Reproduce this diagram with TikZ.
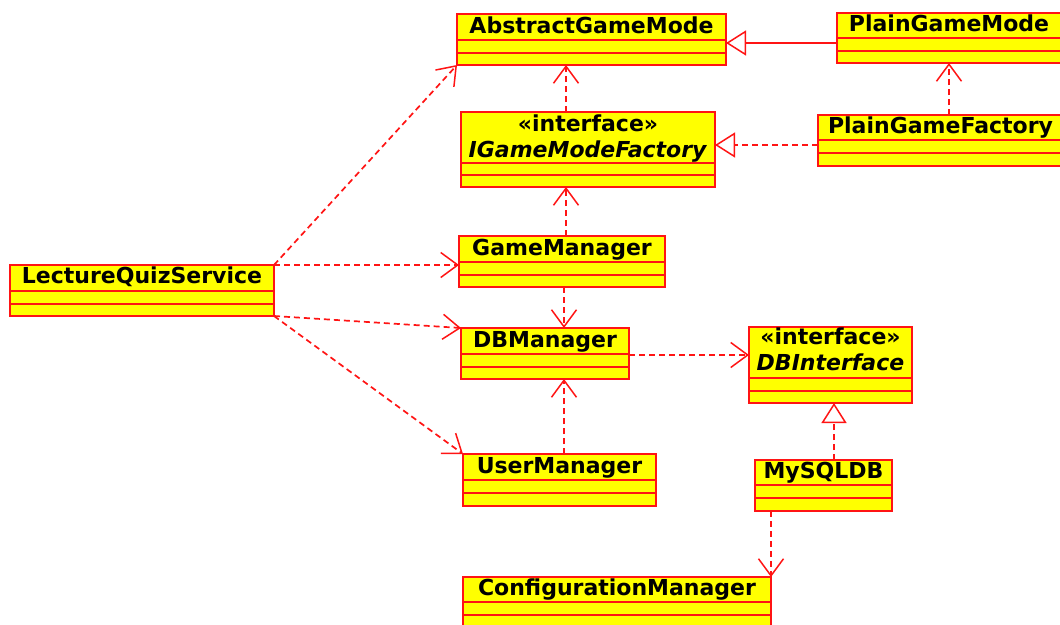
\documentclass[tikz,border=0pt]{standalone}
\usepackage{fontspec}
\setmainfont{DejaVu Sans}
\usetikzlibrary{arrows.meta}
\definecolor{umlred}{RGB}{255,20,20}
\definecolor{umlyellow}{RGB}{255,255,0}
\tikzset{
  clsbox/.style={rectangle, draw=umlred, fill=umlyellow, line width=2pt, inner sep=0pt, outer sep=0pt},
  clstext/.style={font=\fontsize{22}{26}\selectfont\bfseries, anchor=base, inner sep=0pt, align=center, text=black},
  sepline/.style={draw=umlred, line width=2pt},
  dep/.style={draw=umlred, line width=1.7pt, dash pattern=on 6pt off 4pt,
    -{Straight Barb[length=17pt,width=25pt,line width=1.5pt]}},
  real/.style={draw=umlred, line width=1.7pt, dash pattern=on 6pt off 4pt,
    -{Triangle[open,length=20pt,width=25pt,fill=white,line width=1.5pt]}},
  gen/.style={draw=umlred, line width=1.7pt,
    -{Triangle[open,length=20pt,width=25pt,fill=white,line width=1.5pt]}},
}
% name, x1, y1, x2, y2, first separator, baseline of last text line, text
\newcommand\umlclass[8]{%
  \node[clsbox, minimum width={#4-#2}, minimum height={#5-#3}] (#1) at ({(#2+#4)/2},{(#3+#5)/2}) {};
  \draw[sepline] (#2,#6) -- (#4,#6);
  \draw[sepline] (#2,{(#6+#5)/2}) -- (#4,{(#6+#5)/2});
  \node[clstext] (#1-name) at ({(#2+#4)/2},#7) {#8};
}
\begin{document}
\begin{tikzpicture}[x=1pt,y=-1pt]
\useasboundingbox[fill=white] (0,0) rectangle (1060,624);
\umlclass{agm}{457}{14}{726}{65}{40}{33}{AbstractGameMode}
\umlclass{igmf}{461}{112}{715}{187}{163}{157}{«interface»\\\textit{IGameModeFactory}}
\umlclass{pgm}{837}{13}{1061}{63}{38}{31}{PlainGameMode}
\umlclass{pgf}{818}{115}{1063}{166}{140}{133}{PlainGameFactory}
\umlclass{lqs}{10}{265}{274}{316}{291}{283}{LectureQuizService}
\umlclass{gm}{459}{236}{665}{287}{262}{255}{GameManager}
\umlclass{dbm}{461}{328}{629}{379}{354}{347}{DBManager}
\umlclass{dbi}{749}{327}{912}{403}{378}{370}{«interface»\\\textit{DBInterface}}
\umlclass{um}{463}{454}{656}{506}{480}{473}{UserManager}
\umlclass{mysql}{755}{460}{892}{511}{485}{478}{MySQLDB}
\umlclass{cfg}{463}{577}{771}{628}{602}{595}{ConfigurationManager}

% generalization / realization
\draw[gen] ([yshift=-5pt]pgm.west) -- ([yshift=-5pt]pgm.west -| agm.east);
\draw[real] ([yshift=-4.5pt]pgf.west) -- ([yshift=-4.5pt]pgf.west -| igmf.east);
\draw[real] ([xshift=79pt]mysql.north west) -- ([xshift=79pt]mysql.north west |- dbi.south);

% dependencies
\draw[dep] ([xshift=105pt]igmf.north west) -- ([xshift=105pt]igmf.north west |- agm.south);
\draw[dep] (pgm.south |- pgf.north) -- (pgm.south);
\draw[dep] ([xshift=107pt]gm.north west) -- ([xshift=107pt]gm.north west |- igmf.south);
\draw[dep] ([xshift=105pt]gm.south west) -- ([xshift=105pt]gm.south west |- dbm.north);
\draw[dep] ([xshift=101pt]um.north west) -- ([xshift=101pt]um.north west |- dbm.south);
\draw[dep] ([yshift=-1.5pt]dbm.east) -- ([yshift=-1.5pt]dbm.east -| dbi.west);
\draw[dep] (cfg.north east |- mysql.south) -- (cfg.north east);
\draw[dep] (lqs.north east) -- (agm.south west);
\draw[dep] (lqs.north east) -- (lqs.north east -| gm.west);
\draw[dep] (lqs.south east) -- (dbm.north west);
\draw[dep] (lqs.south east) -- (um.north west);
\end{tikzpicture}
\end{document}
